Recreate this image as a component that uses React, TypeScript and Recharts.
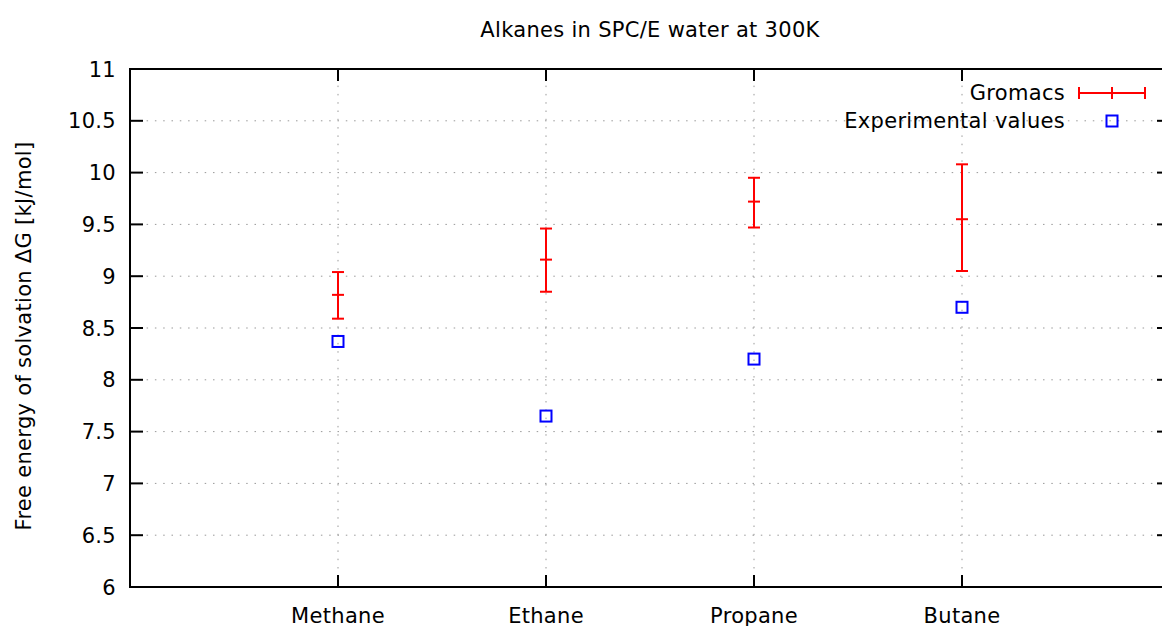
import React from 'react';
import { ComposedChart, Scatter, ErrorBar, XAxis, YAxis, CartesianGrid, ReferenceArea } from 'recharts';

// values
const categories = ['Methane', 'Ethane', 'Propane', 'Butane'];
const categoryPos = [1, 2, 3, 4];
const gromacsMean = [8.82, 9.16, 9.72, 9.55];
const gromacsLow = [8.59, 8.85, 9.47, 9.05];
const gromacsHigh = [9.04, 9.46, 9.95, 10.08];
const experimental = [8.37, 7.65, 8.2, 8.7];
const yTicks = [6, 6.5, 7, 7.5, 8, 8.5, 9, 9.5, 10, 10.5, 11];

const FONT = '"DejaVu Sans", Verdana, sans-serif';
const FS = 21;
const LS = 0.3;

// layout
const CHART_W = 1180;
const CHART_H = 626;
const PLOT_LEFT = 130;
const PLOT_RIGHT = 1170;
const PLOT_TOP = 69;
const PLOT_BOTTOM = 587;
const TICK_LEN = 13;

const gromacsData = categoryPos.map((x, i) => ({
  x,
  y: gromacsMean[i],
  err: [gromacsMean[i] - gromacsLow[i], gromacsHigh[i] - gromacsMean[i]],
}));

const experimentalData = categoryPos.map((x, i) => ({ x, y: experimental[i] }));

const YTick = (props: any) => {
  const { x, y, payload } = props;
  return (
    <g>
      <line x1={PLOT_LEFT} x2={PLOT_LEFT + TICK_LEN} y1={y} y2={y} stroke="#000" strokeWidth={2} />
      <line x1={PLOT_RIGHT - TICK_LEN} x2={PLOT_RIGHT} y1={y} y2={y} stroke="#000" strokeWidth={2} />
      <text x={x} y={y} dy="0.36em" textAnchor="end" fontFamily={FONT} fontSize={FS} letterSpacing={LS} fill="#000">
        {payload.value}
      </text>
    </g>
  );
};

const XTick = (props: any) => {
  const { x, payload } = props;
  const idx = categoryPos.indexOf(payload.value);
  return (
    <g>
      <line x1={x} x2={x} y1={PLOT_BOTTOM} y2={PLOT_BOTTOM - 12} stroke="#000" strokeWidth={2} />
      <line x1={x} x2={x} y1={PLOT_TOP} y2={PLOT_TOP + 12} stroke="#000" strokeWidth={2} />
      <text x={x} y={PLOT_BOTTOM + 36} textAnchor="middle" fontFamily={FONT} fontSize={FS} letterSpacing={LS} fill="#000">
        {idx >= 0 ? categories[idx] : ''}
      </text>
    </g>
  );
};

const YLabel = (props: any) => {
  const { viewBox } = props;
  const cx = 31;
  const cy = viewBox.y + viewBox.height / 2 + 8;
  return (
    <text
      x={cx}
      y={cy}
      transform={`rotate(-90, ${cx}, ${cy})`}
      textAnchor="middle"
      fontFamily={FONT}
      fontSize={FS}
      letterSpacing={LS}
      fill="#000"
    >
      Free energy of solvation ΔG [kJ/mol]
    </text>
  );
};

const MeanMark = (props: any) => {
  const { cx, cy } = props;
  return <line x1={cx - 6} x2={cx + 6} y1={cy} y2={cy} stroke="#ff0000" strokeWidth={2} />;
};

const SquareMark = (props: any) => {
  const { cx, cy } = props;
  return <rect x={cx - 5.5} y={cy - 5.5} width={11} height={11} fill="none" stroke="#0000ff" strokeWidth={2} />;
};

const App = () => {
  return (
    <div style={{ position: 'absolute', left: 0, top: 0, width: 1162, height: 626, overflow: 'hidden', background: '#fff' }}>
      <ComposedChart
        width={CHART_W}
        height={CHART_H}
        margin={{ top: PLOT_TOP, right: CHART_W - PLOT_RIGHT, bottom: 0, left: 0 }}
      >
        <CartesianGrid stroke="#999" strokeDasharray="1.5 6.8" />
        <XAxis
          dataKey="x"
          type="number"
          domain={[0, 5]}
          ticks={categoryPos}
          interval={0}
          height={CHART_H - PLOT_BOTTOM}
          axisLine={false}
          tickLine={false}
          tickSize={0}
          tickMargin={0}
          tick={<XTick />}
        />
        <YAxis
          type="number"
          domain={[6, 11]}
          ticks={yTicks}
          interval={0}
          width={PLOT_LEFT}
          axisLine={false}
          tickLine={false}
          tickSize={0}
          tickMargin={14}
          tick={<YTick />}
          label={{ content: <YLabel /> }}
        />
        <ReferenceArea x1={0} x2={5} y1={6} y2={11} fill="none" stroke="#000" strokeWidth={2} ifOverflow="visible" />
        <Scatter data={gromacsData} dataKey="y" isAnimationActive={false} shape={<MeanMark />}>
          <ErrorBar dataKey="err" direction="y" width={6} stroke="#ff0000" strokeWidth={2} isAnimationActive={false} />
        </Scatter>
        <Scatter data={experimentalData} dataKey="y" isAnimationActive={false} shape={<SquareMark />} />
      </ComposedChart>
      <svg width={1162} height={626} style={{ position: 'absolute', left: 0, top: 0, pointerEvents: 'none' }}>
        <text x={650} y={37} textAnchor="middle" fontFamily={FONT} fontSize={FS} letterSpacing={LS} fill="#000">
          Alkanes in SPC/E water at 300K
        </text>
        <text x={1065} y={100} textAnchor="end" fontFamily={FONT} fontSize={FS} letterSpacing={LS} fill="#000">
          Gromacs
        </text>
        <line x1={1079} x2={1145} y1={93} y2={93} stroke="#ff0000" strokeWidth={2} />
        <line x1={1079} x2={1079} y1={87} y2={99} stroke="#ff0000" strokeWidth={2} />
        <line x1={1112} x2={1112} y1={87} y2={99} stroke="#ff0000" strokeWidth={2} />
        <line x1={1145} x2={1145} y1={87} y2={99} stroke="#ff0000" strokeWidth={2} />
        <text x={1065} y={128} textAnchor="end" fontFamily={FONT} fontSize={FS} letterSpacing={LS} fill="#000">
          Experimental values
        </text>
        <rect x={1106.5} y={115.5} width={11} height={11} fill="none" stroke="#0000ff" strokeWidth={2} />
      </svg>
    </div>
  );
};

export default App;
